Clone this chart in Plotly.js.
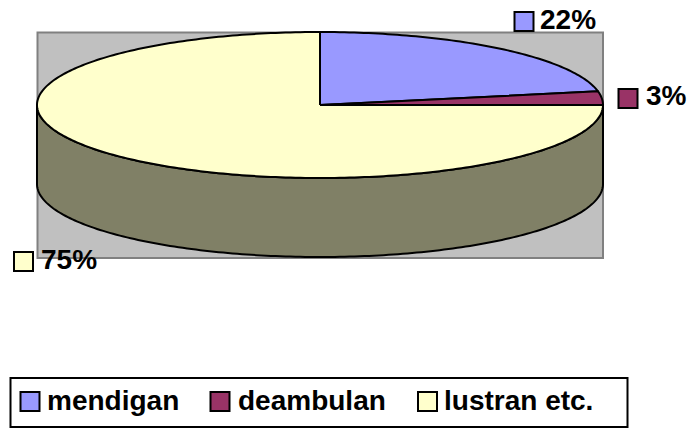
<!DOCTYPE html>
<html>
<head>
<meta charset="utf-8">
<script src="https://cdn.plot.ly/plotly-3.0.1.min.js"></script>
<style>html,body{margin:0;padding:0;background:#fff;overflow:hidden}</style>
</head>
<body>
<div id="chart" style="width:693px;height:428px"></div>
<script>
const categories = ["mendigan", "deambulan", "lustran etc."];
const shares = [22, 3, 75];
const sliceColors = ["#9999FF", "#993366", "#FFFFCC"];
const sideColor = "#808066";

// Data label and legend placement (page pixels, the axes run 1:1 with the page)
const labelSwatchX = [524, 628, 23.5];
const labelSwatchY = [21.5, 98.5, 261.5];
const labelTextX = [540, 646, 41];
const labelTextY = [22, 98, 262];
const legendSwatchX = [30, 220, 427.5];
const legendSwatchY = [401.5, 401.5, 401.5];
const legendTextX = [47, 238, 444];
const legendTextY = [403, 403, 403];

const cx = 320, cy = 105, rx = 283, ry = 73, depth = 79;
const total = shares.reduce((a, b) => a + b, 0);

function rimPoint(deg, dy) {
  const t = deg * Math.PI / 180;
  return [cx + rx * Math.sin(t), cy - ry * Math.cos(t) + (dy || 0)];
}
function arc(a0, a1, dy) {
  const pts = [];
  const n = Math.max(2, Math.ceil(Math.abs(a1 - a0)));
  for (let i = 0; i <= n; i++) pts.push(rimPoint(a0 + (a1 - a0) * i / n, dy));
  return pts;
}

const traces = [];
// Pie side wall: the front half of the rim, from 90 to 270 degrees
const wall = arc(90, 270, 0).concat(arc(270, 90, depth));
wall.push(wall[0]);
traces.push({
  type: "scatter", mode: "lines", fill: "toself", fillcolor: sideColor,
  x: wall.map(p => p[0]), y: wall.map(p => p[1]),
  line: {color: "#000", width: 2, simplify: false},
  hoverinfo: "skip", showlegend: false
});
// Top slices, clockwise from 12 o'clock
let acc = 0;
shares.forEach((v, i) => {
  const a0 = acc / total * 360;
  acc += v;
  const a1 = acc / total * 360;
  const pts = [[cx, cy]].concat(arc(a0, a1, 0));
  pts.push([cx, cy]);
  traces.push({
    type: "scatter", mode: "lines", fill: "toself", fillcolor: sliceColors[i],
    x: pts.map(p => p[0]), y: pts.map(p => p[1]),
    line: {color: "#000", width: 2, simplify: false},
    name: categories[i], hoverinfo: "name", showlegend: false
  });
});
const font = {family: "Liberation Sans, Arial, sans-serif", size: 28, color: "#000"};
const boldWrap = s => "<b>" + s + "</b>";
// Data labels
traces.push({
  type: "scatter", mode: "markers",
  x: labelSwatchX, y: labelSwatchY,
  marker: {symbol: "square", size: 19, color: sliceColors, line: {color: "#000", width: 2}},
  hoverinfo: "skip", showlegend: false
});
traces.push({
  type: "scatter", mode: "text",
  x: labelTextX, y: labelTextY,
  text: shares.map(v => boldWrap(v + "%")),
  textposition: "middle right", textfont: font,
  hoverinfo: "skip", showlegend: false
});
// Legend
traces.push({
  type: "scatter", mode: "markers",
  x: legendSwatchX, y: legendSwatchY,
  marker: {symbol: "square", size: 19, color: sliceColors, line: {color: "#000", width: 2}},
  hoverinfo: "skip", showlegend: false
});
traces.push({
  type: "scatter", mode: "text",
  x: legendTextX, y: legendTextY,
  text: categories.map(boldWrap),
  textposition: "middle right", textfont: font,
  hoverinfo: "skip", showlegend: false
});

const hiddenAxis = {visible: false, fixedrange: true, showgrid: false, zeroline: false};
Plotly.newPlot("chart", traces, {
  width: 693, height: 428,
  margin: {l: 0, r: 0, t: 0, b: 0},
  paper_bgcolor: "#fff", plot_bgcolor: "#fff",
  xaxis: Object.assign({range: [0, 693]}, hiddenAxis),
  yaxis: Object.assign({range: [428, 0]}, hiddenAxis),
  showlegend: false,
  shapes: [
    {type: "rect", layer: "below", xref: "x", yref: "y", x0: 37.5, x1: 603, y0: 32.5, y1: 258,
     fillcolor: "#C0C0C0", line: {color: "#808080", width: 2}},
    {type: "rect", layer: "below", xref: "x", yref: "y", x0: 10.5, x1: 627.5, y0: 378, y1: 427,
     fillcolor: "#fff", line: {color: "#000", width: 2}}
  ]
}, {staticPlot: true, displayModeBar: false});
</script>
</body>
</html>
